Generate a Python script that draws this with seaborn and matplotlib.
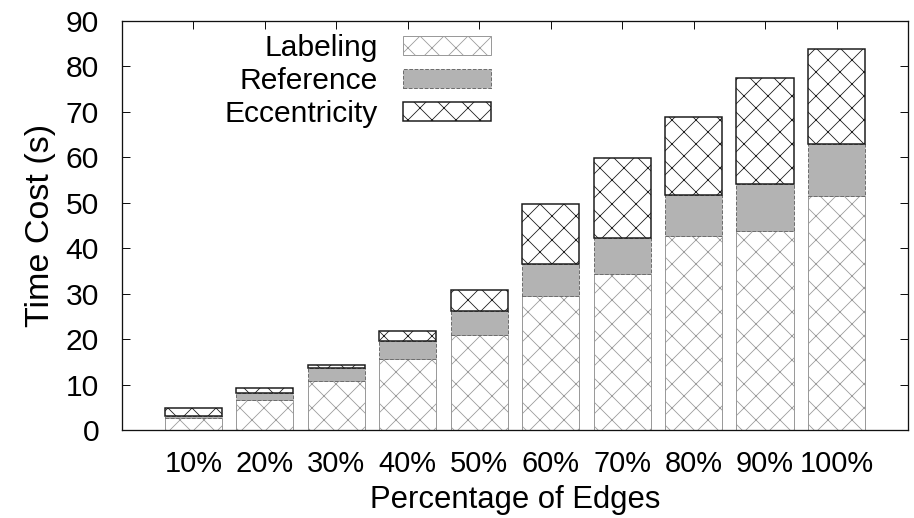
import matplotlib
matplotlib.use("Agg")
import matplotlib.pyplot as plt
import seaborn as sns
import numpy as np

# Percentage of edges used, and the time spent in each phase (seconds)
categories = ["10%", "20%", "30%", "40%", "50%", "60%", "70%", "80%", "90%", "100%"]
labeling = [2.7, 6.6, 10.8, 15.7, 20.9, 29.4, 34.2, 42.7, 43.8, 51.4]
reference = [0.4, 1.6, 2.9, 3.8, 5.3, 7.0, 8.0, 9.0, 10.2, 11.4]
eccentricity = [1.7, 1.1, 0.7, 2.2, 4.6, 13.4, 17.6, 17.1, 23.4, 20.9]

DPI = 72  # one point per pixel

sns.set_theme(style="ticks")
plt.rcParams["font.family"] = ["Liberation Sans", "DejaVu Sans"]
plt.rcParams["text.color"] = "black"
plt.rcParams["axes.labelcolor"] = "black"
plt.rcParams["xtick.color"] = "black"
plt.rcParams["ytick.color"] = "black"
plt.rcParams["hatch.linewidth"] = 0.8

fig = plt.figure(figsize=(914 / DPI, 518 / DPI), dpi=DPI)
ax = fig.add_axes([0.1335, 0.1699, 0.8599, 0.79])

layers = [
    ("Labeling", labeling, dict(color="white", edgecolor="#9a9a9a", hatch="x", linewidth=1.0)),
    ("Reference", reference, dict(color="#b3b3b3", edgecolor="#6e6e6e", linestyle="--", linewidth=1.0)),
    ("Eccentricity", eccentricity, dict(color="white", edgecolor="#1a1a1a", hatch="x", linewidth=1.5)),
]

base = np.zeros(len(categories))
for name, values, style in layers:
    sns.barplot(x=categories, y=values, ax=ax, errorbar=None, saturation=1,
                width=0.8, label=name, **style)
    # stack this layer on top of the previous ones
    for patch, b in zip(ax.containers[-1].patches, base):
        patch.set_y(b)
    base = base + np.asarray(values)

ax.set_xlim(-1, 10)
ax.set_ylim(0, 90)
ax.set_yticks(range(0, 91, 10))

for side in ["top", "right", "bottom", "left"]:
    ax.spines[side].set_visible(True)
    ax.spines[side].set_linewidth(1.3)
    ax.spines[side].set_color("#111111")

ax.tick_params(axis="y", which="major", direction="in", length=8, width=1.0,
               left=True, right=True, labelsize=30, pad=23, color="#111111")
ax.tick_params(axis="x", which="major", direction="in", length=8, width=1.0,
               top=True, bottom=False, labelsize=29, pad=20, color="#111111")

ax.set_xlabel("Percentage of Edges", fontsize=31, labelpad=7)
ax.set_ylabel("Time Cost (s)", fontsize=34, labelpad=10)

leg = ax.legend(loc="upper right", bbox_to_anchor=(0.469, 0.9675), frameon=False,
                markerfirst=False, fontsize=30, handlelength=2.93, handleheight=0.57,
                handletextpad=0.83, labelspacing=0.17, borderpad=0, borderaxespad=0)
for t in leg.get_texts():
    t.set_ha("right")

fig.savefig("out.png", dpi=DPI)
